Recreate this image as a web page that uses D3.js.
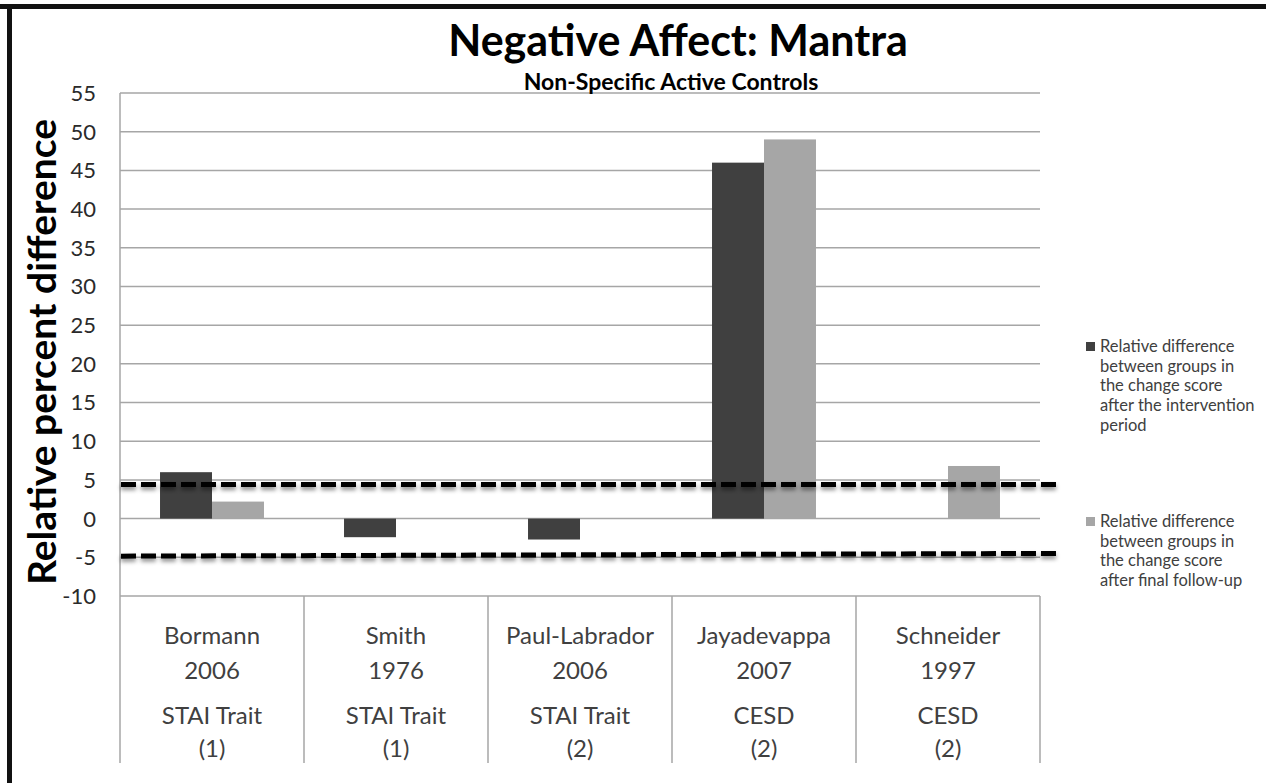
<!DOCTYPE html>
<html>
<head>
<meta charset="utf-8">
<script src="https://cdn.jsdelivr.net/npm/d3@7"></script>
<style>
  body { margin: 0; background: #fff; }
  svg { display: block; font-family: Lato, "Open Sans", sans-serif; }
</style>
</head>
<body>
<svg id="chart" width="1266" height="783"></svg>
<script>
// chart values
var studies = ["Bormann", "Smith", "Paul-Labrador", "Jayadevappa", "Schneider"];
var years = ["2006", "1976", "2006", "2007", "1997"];
var measures = ["STAI Trait", "STAI Trait", "STAI Trait", "CESD", "CESD"];
var codes = ["(1)", "(1)", "(2)", "(2)", "(2)"];
var seriesNames = ["intervention", "followup"];
var afterIntervention = [6.0, -2.4, -2.7, 46.0, null];
var afterFollowup = [2.2, null, null, 49.0, 6.8];
var yTicks = [-10, -5, 0, 5, 10, 15, 20, 25, 30, 35, 40, 45, 50, 55];
// dashed reference lines (value at left end, value at right end)
var upperRef = [4.4, 4.4];
var lowerRef = [-4.85, -4.5];
var legendLabels = [
  ["Relative difference", "between groups in", "the change score", "after the intervention", "period"],
  ["Relative difference", "between groups in", "the change score", "after final follow-up"]
];

var svg = d3.select("#chart");
var colors = d3.scaleOrdinal().domain(seriesNames).range(["#404040", "#a6a6a6"]);

var plotLeft = 120, plotRight = 1040, plotTop = 93, plotBottom = 596;

var x = d3.scaleBand().domain(studies).range([plotLeft, plotRight]).padding(0);
var xs = d3.scaleBand().domain(seriesNames).range([0, x.bandwidth()]).paddingInner(0).paddingOuter(0.77);
var y = d3.scaleLinear().domain([-10, 55]).range([plotBottom, plotTop]);

// frame (top and left edges of the pasted picture)
svg.append("rect").attr("x", 0).attr("y", 4).attr("width", 1266).attr("height", 5).attr("fill", "#111");
svg.append("rect").attr("x", 7).attr("y", 4).attr("width", 5).attr("height", 779).attr("fill", "#111");

// gridlines
svg.append("g")
  .selectAll("line")
  .data(yTicks)
  .enter()
  .append("line")
    .attr("x1", plotLeft).attr("x2", plotRight)
    .attr("y1", function(d) { return y(d); })
    .attr("y2", function(d) { return y(d); })
    .attr("stroke", "#a6a6a6")
    .attr("stroke-width", 1.5);

// tick labels
svg.append("g")
  .selectAll("text")
  .data(yTicks)
  .enter()
  .append("text")
    .attr("x", 96)
    .attr("y", function(d) { return y(d); })
    .attr("dy", "0.36em")
    .attr("text-anchor", "end")
    .style("font-size", "22px")
    .attr("fill", "#2a2a2a")
    .text(function(d) { return d; });

// category dividers (left axis + multi-level labels box)
var dividers = [plotLeft].concat(studies.map(function(s) { return x(s) + x.bandwidth(); }));
svg.append("g")
  .selectAll("line")
  .data(dividers)
  .enter()
  .append("line")
    .attr("x1", function(d) { return d; })
    .attr("x2", function(d) { return d; })
    .attr("y1", function(d, i) { return i == 0 ? plotTop : plotBottom; })
    .attr("y2", 763)
    .attr("stroke", "#a6a6a6")
    .attr("stroke-width", 1.5);

// bars
var rows = [];
studies.forEach(function(s, i) {
  rows.push({ study: s, series: "intervention", value: afterIntervention[i] });
  rows.push({ study: s, series: "followup", value: afterFollowup[i] });
});

svg.append("g")
  .selectAll("rect")
  .data(rows.filter(function(d) { return d.value != null; }))
  .enter()
  .append("rect")
    .attr("x", function(d) { return x(d.study) + xs(d.series); })
    .attr("width", xs.bandwidth())
    .attr("y", function(d) { return y(Math.max(0, d.value)); })
    .attr("height", function(d) { return Math.abs(y(d.value) - y(0)); })
    .attr("fill", function(d) { return colors(d.series); });

// category labels
var labelLines = [
  { arr: studies, y: 644 },
  { arr: years, y: 679 },
  { arr: measures, y: 724 },
  { arr: codes, y: 757 }
];
labelLines.forEach(function(line) {
  svg.append("g")
    .selectAll("text")
    .data(line.arr)
    .enter()
    .append("text")
      .attr("x", function(d, i) { return x(studies[i]) + x.bandwidth() / 2; })
      .attr("y", line.y)
      .attr("text-anchor", "middle")
      .style("font-size", "24px")
      .attr("fill", "#404040")
      .text(function(d) { return d; });
});

// dashed reference lines with shadow
var defs = svg.append("defs");
var shadow = defs.append("filter").attr("id", "shadow")
  .attr("filterUnits", "userSpaceOnUse")
  .attr("x", 0).attr("y", 0).attr("width", 1266).attr("height", 783);
shadow.append("feDropShadow")
  .attr("dx", 0).attr("dy", 3).attr("stdDeviation", 2)
  .attr("flood-color", "#000").attr("flood-opacity", 0.45);

[upperRef, lowerRef].forEach(function(ref) {
  svg.append("line")
    .attr("x1", plotLeft + 1)
    .attr("x2", plotRight + 17)
    .attr("y1", y(ref[0]))
    .attr("y2", y(ref[1]))
    .attr("stroke", "#000")
    .attr("stroke-width", 5)
    .attr("stroke-dasharray", "15,5")
    .attr("filter", "url(#shadow)");
});

// titles
svg.append("text")
  .attr("x", 678).attr("y", 56)
  .attr("text-anchor", "middle")
  .style("font-size", "43px")
  .style("font-weight", "bold")
  .attr("fill", "#000")
  .text("Negative Affect: Mantra");

svg.append("text")
  .attr("x", 671).attr("y", 90)
  .attr("text-anchor", "middle")
  .style("font-size", "23px")
  .style("font-weight", "bold")
  .attr("fill", "#000")
  .text("Non-Specific Active Controls");

svg.append("text")
  .attr("transform", "translate(56,352) rotate(-90)")
  .attr("text-anchor", "middle")
  .style("font-size", "39px")
  .style("font-weight", "bold")
  .attr("fill", "#000")
  .text("Relative percent difference");

// legend
var legendTops = [352, 527];
legendLabels.forEach(function(lines, k) {
  var g = svg.append("g");
  g.append("rect")
    .attr("x", 1086).attr("y", legendTops[k] - 10)
    .attr("width", 9).attr("height", 9)
    .attr("fill", colors(seriesNames[k]));
  g.selectAll("text")
    .data(lines)
    .enter()
    .append("text")
      .attr("x", 1100)
      .attr("y", function(d, i) { return legendTops[k] + i * 19.7; })
      .style("font-size", "16.5px")
      .attr("fill", "#404040")
      .text(function(d) { return d; });
});
</script>
</body>
</html>
